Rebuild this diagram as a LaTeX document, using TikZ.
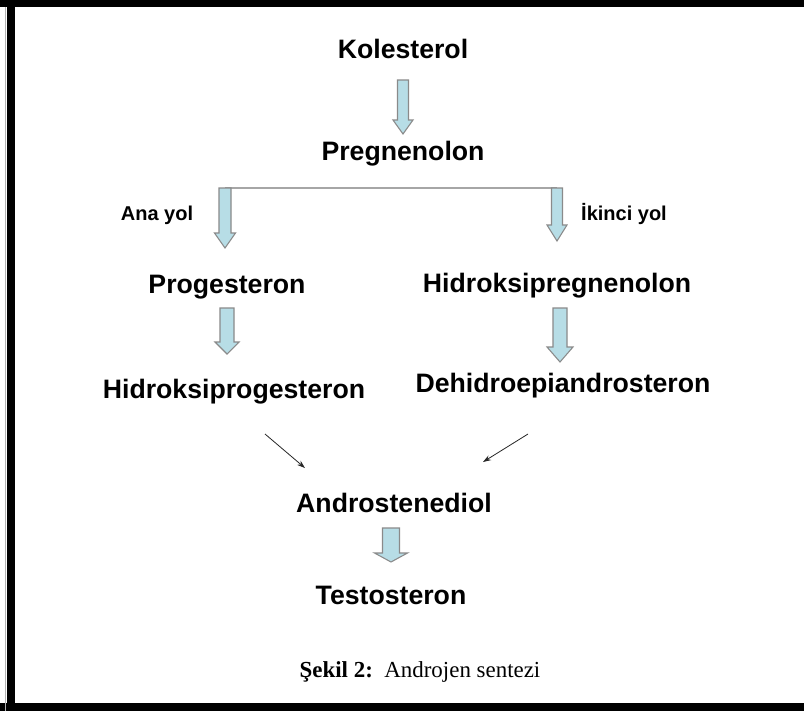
\documentclass[tikz,border=0pt]{standalone}
\usepackage{fontspec}
\setmainfont{Liberation Serif}
\setsansfont{Liberation Sans}
\usetikzlibrary{arrows.meta,calc}
\definecolor{arrowfill}{HTML}{B7DDE6}
\definecolor{arrowedge}{HTML}{8A8A8A}

% block arrow: from, to, shaft half width, head half width, head length (px)
\newcommand{\fatarrow}[5]{%
  \draw[fat] let \p1=(#1), \p2=(#2) in
    (\x1-#3*0.75pt,\y1) -- (\x1-#3*0.75pt,\y2+#5*0.75pt) -- (\x1-#4*0.75pt,\y2+#5*0.75pt)
    -- (\x1,\y2) -- (\x1+#4*0.75pt,\y2+#5*0.75pt) -- (\x1+#3*0.75pt,\y2+#5*0.75pt)
    -- (\x1+#3*0.75pt,\y1) -- cycle;}

\begin{document}
\begin{tikzpicture}[
  x=0.75pt,y=-0.75pt,
  chem/.style={font=\sffamily\bfseries\fontsize{20}{24}\selectfont,inner sep=0pt,anchor=base},
  way/.style={font=\sffamily\bfseries\fontsize{15}{18}\selectfont,inner sep=0pt,anchor=base},
  fat/.style={fill=arrowfill,draw=arrowedge,line width=0.8pt,line join=miter},
  link/.style={-{Stealth[length=6pt,width=4pt]},line width=0.6pt,draw=black!85}
]
\useasboundingbox (0,0) rectangle (804,711);
\fill[white] (0,0) rectangle (804,711);
% frame
\fill[black] (0,0) rectangle (804,7);
\fill[black] (7,0) rectangle (15,711);
\fill[black] (0,703) rectangle (804,711);
\draw[gray!60,line width=0.75pt] (5.5,7) -- (5.5,711);

\node[chem] (kol)   at (403,58)  {Kolesterol};
\node[chem] (preg)  at (403,160) {Pregnenolon};
\node[chem] (prog)  at (227,293) {Progesteron};
\node[chem] (hpreg) at (557,292) {Hidroksipregnenolon};
\node[chem] (hprog) at (234,398) {Hidroksiprogesteron};
\node[chem] (dhea)  at (563,392) {Dehidroepiandrosteron};
\node[chem] (andro) at (394,512) {Androstenediol};
\node[chem] (testo) at (391,604) {Testosteron};
\node[way]  (ana)   at (157,220) {Ana yol};
\node[way]  (ikinci) at (624,220) {İkinci yol};
\node[inner sep=0pt,anchor=base,font=\fontsize{17.2}{20}\selectfont] (cap) at (420,677)
  {\textbf{Şekil 2:}\ \ Androjen sentezi};

\coordinate (sl) at (225,188);
\coordinate (sr) at (557,188);
\draw[gray!70,line width=0.9pt] (sl) -- (sr);

\fatarrow{$(kol.base)+(0,22)$}{$(preg.base)+(0,-26)$}{5.5}{10}{14}
\fatarrow{sl}{$(prog.base)+(0,-45)$}{6}{10.5}{15}
\fatarrow{sr}{$(hpreg.base)+(0,-51)$}{5.5}{10}{16}
\fatarrow{$(prog.base)+(0,15)$}{$(hprog.base)+(0,-44)$}{7}{12}{12}
\fatarrow{$(hpreg.base)+(3,16)$}{$(dhea.base)+(0,-30)$}{7}{13}{15}
\fatarrow{$(andro.base)+(-3,16)$}{$(testo.base)+(0,-42)$}{8.5}{16.5}{9}

\draw[link] ($(hprog.base)+(31,36)$) -- ($(andro.base)+(-89,-44)$);
\draw[link] ($(dhea.base)+(-35,42)$) -- ($(andro.base)+(89,-50)$);
\end{tikzpicture}
\end{document}
